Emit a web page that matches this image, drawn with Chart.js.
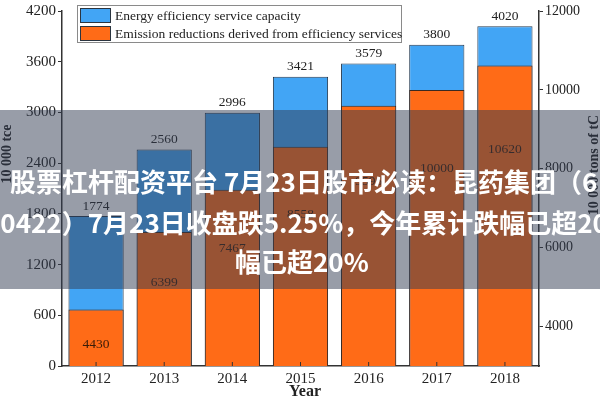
<!DOCTYPE html>
<html>
<head>
<meta charset="utf-8">
<script src="https://cdn.jsdelivr.net/npm/chart.js@4/dist/chart.umd.min.js"></script>
<style>
  body { margin: 0; background: #fff; }
  #wrap { position: relative; width: 600px; height: 400px; overflow: hidden; }
  #legend {
    position: absolute; left: 77px; top: 5px; width: 323px; height: 36px;
    border: 1px solid #8a8a8a; background: #fff;
    font-family: "Liberation Serif", serif; font-size: 13.5px; color: #222;
  }
  .row { position: absolute; left: 2px; height: 15px; line-height: 15px; white-space: nowrap; }
  .sw { display: inline-block; width: 29px; height: 13px; border: 1px solid #2b3540; vertical-align: top; margin-right: 4px; }
  #banner {
    position: absolute; left: 0; top: 110px; width: 600px; height: 179px;
    background: rgba(49, 59, 81, 0.5);
    font-family: "Noto Sans CJK SC", sans-serif; font-weight: bold; font-size: 26px; color: #fff;
  }
  .line { position: absolute; white-space: nowrap; line-height: 30px; }
</style>
</head>
<body>
<div id="wrap">
  <canvas id="chart" width="600" height="400"></canvas>
  <div id="legend">
    <div class="row" style="top:2px"><span class="sw" style="background:#42a5f5"></span>Energy efficiency service capacity</div>
    <div class="row" style="top:20px"><span class="sw" style="background:#ff6b17"></span>Emission reductions derived from efficiency services</div>
  </div>
  <div id="banner">
    <div class="line" style="left:10px; top:56px">股票杠杆配资平台 7月23日股市必读：昆药集团（6</div>
    <div class="line" style="left:-15px; top:97px">00422）7月23日收盘跌5.25%，今年累计跌幅已超20%</div>
    <div class="line" style="left:235px; top:136px">幅已超20%</div>
  </div>
</div>
<script>
// Data
const years = ["2012", "2013", "2014", "2015", "2016", "2017", "2018"];
const capacity = [1774, 2560, 2996, 3421, 3579, 3800, 4020];
const reductions = [4430, 6399, 7467, 8558, 9596, 10000, 10620];
const rightTicks = [4000, 6000, 8000, 10000, 12000];

const serif = "Liberation Serif";
const axisColor = "#333";

// value labels, axis titles and inward x ticks
const extras = {
  id: "extras",
  afterDatasetsDraw(chart) {
    const ctx = chart.ctx;
    const yL = chart.scales.yL;
    const yR = chart.scales.yR;
    const x = chart.scales.x;
    ctx.save();
    ctx.font = "13.5px " + serif;
    ctx.textAlign = "center";
    ctx.textBaseline = "middle";

    chart.getDatasetMeta(0).data.forEach((bar, i) => {
      ctx.fillStyle = "#222";
      ctx.fillText(capacity[i], bar.x, yL.getPixelForValue(capacity[i]) - 10);
    });
    chart.getDatasetMeta(1).data.forEach((bar, i) => {
      ctx.fillStyle = "#3a1c08";
      ctx.fillText(reductions[i], bar.x, yR.getPixelForValue(reductions[i] * 0.8));
    });

    // inward ticks on x axis
    ctx.strokeStyle = axisColor;
    ctx.lineWidth = 1;
    const bottom = chart.chartArea.bottom;
    years.forEach((y, i) => {
      const px = x.getPixelForValue(i);
      ctx.beginPath();
      ctx.moveTo(px, bottom);
      ctx.lineTo(px, bottom - 4);
      ctx.stroke();
    });

    // axis titles
    ctx.fillStyle = "#222";
    ctx.font = "bold 14px " + serif;
    ctx.save();
    ctx.translate(7, 154);
    ctx.rotate(-Math.PI / 2);
    ctx.fillText("10 000 tce", 0, 0);
    ctx.restore();
    ctx.save();
    ctx.translate(594, 165);
    ctx.rotate(-Math.PI / 2);
    ctx.fillText("10 000 tons of tC", 0, 0);
    ctx.restore();
    ctx.font = "bold 16px " + serif;
    ctx.fillText("Year", 305, 392);
    ctx.restore();
  }
};

const ctx = document.getElementById("chart").getContext("2d");
new Chart(ctx, {
  type: "bar",
  data: {
    labels: years,
    datasets: [
      {
        label: "Energy efficiency service capacity",
        data: capacity,
        yAxisID: "yL",
        backgroundColor: "#42a5f5",
        borderColor: "#24394f",
        borderWidth: 1,
        grouped: false,
        order: 1,
        barPercentage: 0.81,
        categoryPercentage: 1
      },
      {
        label: "Emission reductions derived from efficiency services",
        data: reductions,
        yAxisID: "yR",
        base: 3000,
        backgroundColor: "#ff6b17",
        borderColor: "#3a2a22",
        borderWidth: 1,
        grouped: false,
        order: 0,
        barPercentage: 0.81,
        categoryPercentage: 1
      }
    ]
  },
  options: {
    responsive: false,
    animation: false,
    layout: { padding: { top: 5, left: 0, right: 0, bottom: 0 } },
    plugins: { legend: { display: false }, tooltip: { enabled: false } },
    scales: {
      x: {
        grid: { display: false, drawTicks: false },
        border: { color: axisColor, width: 1.5 },
        ticks: { color: "#222", font: { family: serif, size: 15 }, padding: 4, maxRotation: 0 },
        afterFit(s) { s.height = 34; }
      },
      yL: {
        position: "left",
        min: 0,
        max: 4200,
        grid: { drawOnChartArea: false, tickLength: 4, color: axisColor },
        border: { color: axisColor, width: 1.5 },
        ticks: { stepSize: 600, color: "#222", font: { family: serif, size: 15 }, padding: 2, callback: v => String(v) },
        afterFit(s) { s.width = 62; }
      },
      yR: {
        position: "right",
        min: 3000,
        max: 12000,
        grid: { drawOnChartArea: false, tickLength: 4, color: axisColor },
        border: { color: axisColor, width: 1.5 },
        ticks: { color: "#222", font: { family: serif, size: 14 }, padding: 2, callback: v => String(v) },
        afterBuildTicks(s) { s.ticks = rightTicks.map(v => ({ value: v })); },
        afterFit(s) { s.width = 61; }
      }
    }
  },
  plugins: [extras]
});
</script>
</body>
</html>
